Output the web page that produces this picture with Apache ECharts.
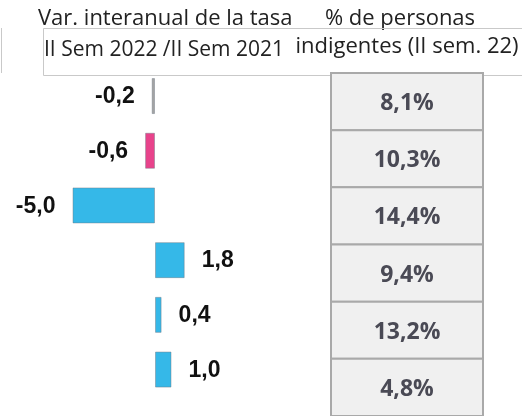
<!DOCTYPE html>
<html>
<head>
<meta charset="utf-8">
<script src="https://cdn.jsdelivr.net/npm/echarts@6/dist/echarts.min.js"></script>
<style>
  html, body { margin: 0; padding: 0; background: #ffffff; }
  #chart { width: 522px; height: 416px; }
</style>
</head>
<body>
<div id="chart"></div>
<script>
// Variación interanual de la tasa de indigencia (puntos porcentuales)
const filas = [0, 1, 2, 3, 4, 5];
const variacion = [-0.2, -0.6, -5.0, 1.8, 0.4, 1.0];
// % de personas indigentes, II semestre 2022
const indigencia = [8.1, 10.3, 14.4, 9.4, 13.2, 4.8];

const tituloVar = 'Var. interanual de la tasa';
const subtituloVar = 'II Sem 2022 /II Sem 2021';
const tituloPct = '% de personas';
const subtituloPct = 'indigentes (II sem. 22)';

const coma = v => v.toFixed(1).replace('.', ',');

const colorBarra = i => (i === 0 ? '#a3a3a3' : i === 1 ? '#e8438b' : '#35b8e8');

const chart = echarts.init(document.getElementById('chart'), null, { renderer: 'canvas' });

const barData = variacion.map((v, i) => ({
  value: v,
  itemStyle: { color: colorBarra(i) },
  label: { position: v < 0 ? 'left' : 'right' }
}));

const cellData = indigencia.map((p, i) => [p, filas[i]]);

chart.setOption({
  animation: false,
  backgroundColor: '#ffffff',
  grid: [
    { left: 72.5, width: 165, top: 68.7, height: 328.2 },
    { left: 331, width: 152, top: 73, height: 348 }
  ],
  xAxis: [
    { gridIndex: 0, type: 'value', min: -5, max: 5, show: false },
    { gridIndex: 1, type: 'value', min: 0, max: 20, show: false }
  ],
  yAxis: [
    { gridIndex: 0, type: 'category', data: filas, inverse: true, show: false },
    { gridIndex: 1, type: 'category', data: filas, inverse: true, show: false }
  ],
  series: [
    {
      type: 'bar',
      xAxisIndex: 0,
      yAxisIndex: 0,
      data: barData,
      barWidth: 36,
      itemStyle: { borderColor: 'rgba(110,120,130,0.45)', borderWidth: 1 },
      label: {
        show: true,
        distance: 17,
        offset: [0, 1],
        formatter: p => coma(p.value),
        fontFamily: 'Liberation Sans',
        fontWeight: 'bold',
        fontSize: 23,
        color: '#111111'
      }
    },
    {
      type: 'custom',
      xAxisIndex: 1,
      yAxisIndex: 1,
      data: cellData,
      renderItem: (params, api) => {
        const cs = params.coordSys;
        const yc = api.coord([0, api.value(1)])[1];
        const h = api.size([0, 1])[1];
        return {
          type: 'group',
          children: [
            {
              type: 'rect',
              shape: { x: cs.x, y: yc - h / 2, width: cs.width, height: h },
              style: { fill: '#f0f0f0', stroke: '#a9a9a9', lineWidth: 2 }
            },
            {
              type: 'text',
              style: {
                text: coma(api.value(0)) + '%',
                x: cs.x + cs.width / 2,
                y: yc + 2,
                align: 'center',
                verticalAlign: 'middle',
                font: 'bold 23px "Open Sans"',
                fill: '#4a4a55'
              }
            }
          ]
        };
      }
    }
  ],
  graphic: [
    {
      type: 'rect',
      shape: { x: 43.5, y: 28.5, width: 520, height: 47 },
      style: { fill: 'none', stroke: '#c9c9c9', lineWidth: 1 },
      z: 1
    },
    {
      type: 'line',
      shape: { x1: 1.5, y1: 28, x2: 1.5, y2: 73 },
      style: { stroke: '#c9c9c9', lineWidth: 1 }
    },
    {
      type: 'text',
      style: { text: tituloVar, x: 38, y: 19, verticalAlign: 'middle', font: '22px "Open Sans"', fill: '#222222' }
    },
    {
      type: 'text',
      style: { text: subtituloVar, x: 44, y: 50, verticalAlign: 'middle', font: '21px "Open Sans"', fill: '#222222' }
    },
    {
      type: 'text',
      style: { text: tituloPct, x: 400, y: 19, align: 'center', verticalAlign: 'middle', font: '22px "Open Sans"', fill: '#222222' }
    },
    {
      type: 'text',
      style: { text: subtituloPct, x: 407, y: 47, align: 'center', verticalAlign: 'middle', font: '22px "Open Sans"', fill: '#222222' }
    }
  ]
});
</script>
</body>
</html>
